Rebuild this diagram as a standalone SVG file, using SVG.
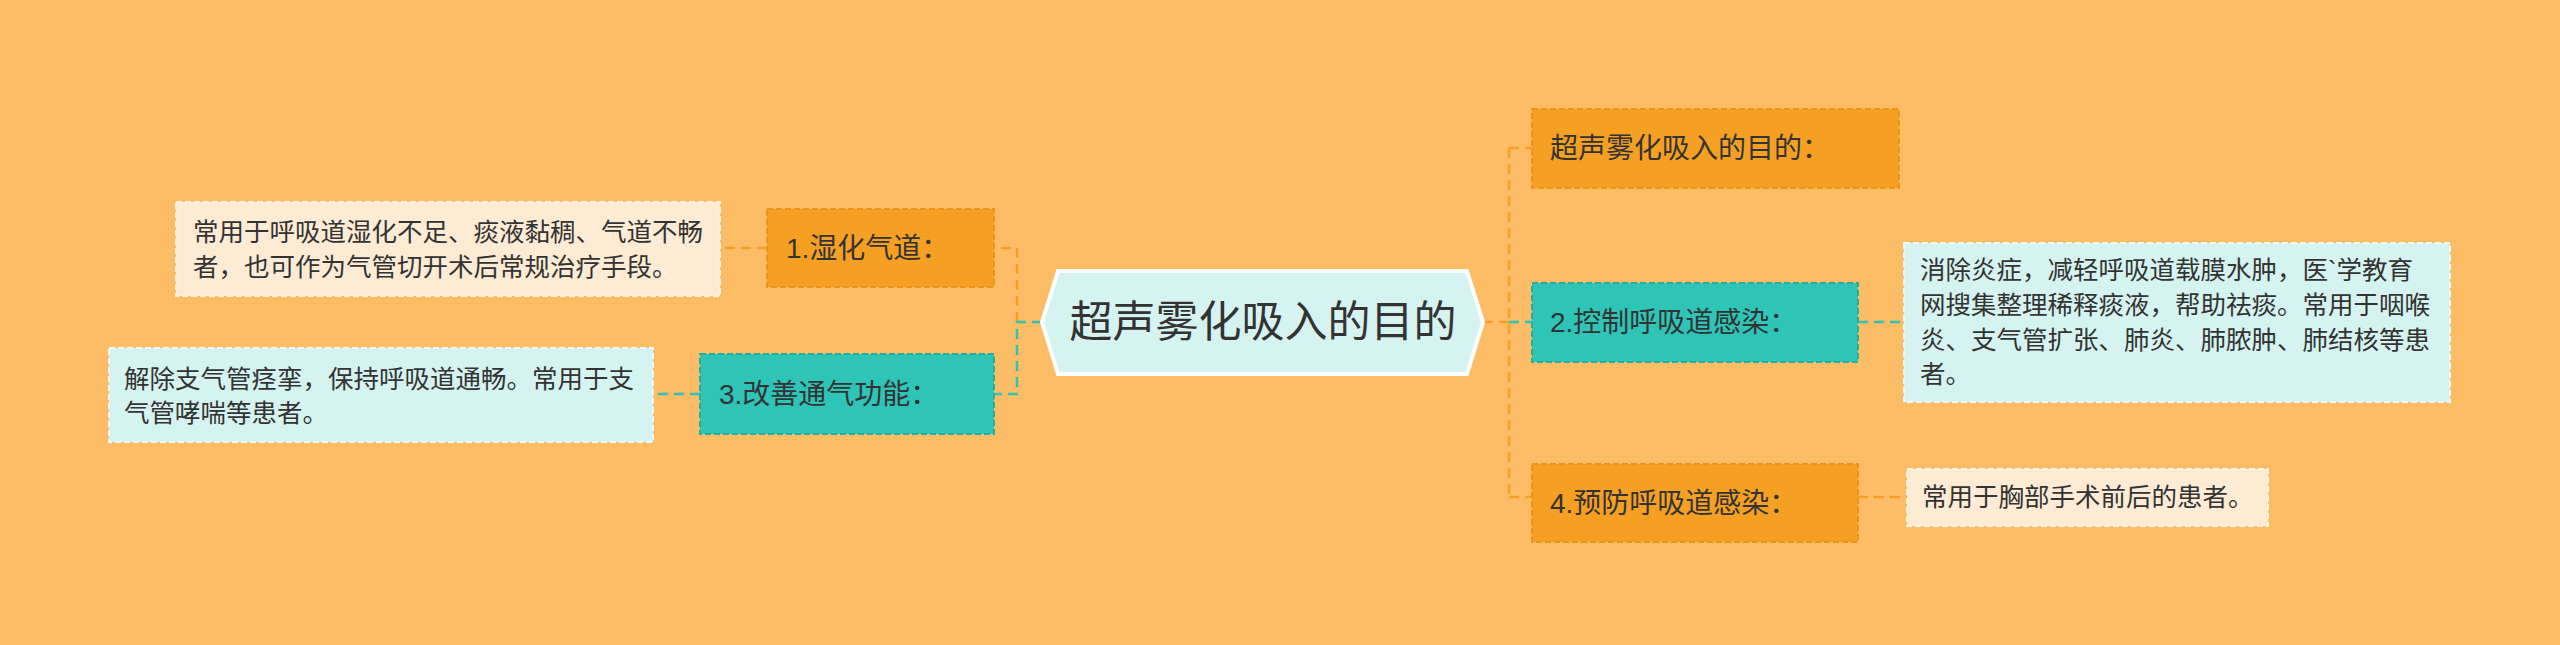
<svg xmlns="http://www.w3.org/2000/svg" width="2560" height="645" viewBox="0 0 2560 645">
<style>
text{font-family:"Liberation Sans","Noto Sans CJK SC",sans-serif;fill:#333}
.or{fill:#f6a023;stroke:#e8951a;stroke-width:2;stroke-dasharray:6 3}
.te{fill:#2ec4b6;stroke:#27ad9f;stroke-width:2;stroke-dasharray:6 3}
.cr{fill:#fdebd3;stroke:#fff3e3;stroke-width:2;stroke-dasharray:6 3}
.cy{fill:#d5f3f0;stroke:#e8fbf8;stroke-width:2;stroke-dasharray:6 3}
.b{font-size:28px}
.l{font-size:25.5px}
.co{fill:none;stroke:#f6a023;stroke-width:2.5;stroke-dasharray:10 6}
.ct{fill:none;stroke:#2ec4b6;stroke-width:2.5;stroke-dasharray:10 6}
</style>
<rect width="2560" height="645" fill="#fdbd67"/>
<g id="connectors">
<path class="co" d="M1483 322H1509M1509 148V497M1509 148H1532M1509 497H1532"/>
<path class="ct" d="M1509 322H1532"/>
<path class="ct" d="M1858 322H1904"/>
<path class="co" d="M1858 497H1907"/>
<path class="co" d="M1017 322V248H994"/>
<path class="ct" d="M1042 322H1017V394H994"/>
<path class="co" d="M767 248H720"/>
<path class="ct" d="M700 394H653"/>
</g>
<g id="center">
<polygon points="1058,271 1467,271 1483,322 1467,374 1058,374 1042,322" fill="#d5f3f0" stroke="#fff" stroke-width="4"/>
<text x="1263" y="337" font-size="43" text-anchor="middle">超声雾化吸入的目的</text>
</g>
<g id="n1"><rect class="or" x="767" y="209" width="227" height="78"/><text class="b" x="786" y="258">1.湿化气道：</text></g>
<g id="leaf1"><rect class="cr" x="176" y="202" width="544" height="94"/>
<text class="l" x="193" y="241">常用于呼吸道湿化不足、痰液黏稠、气道不畅</text><text class="l" x="193" y="276">者，也可作为气管切开术后常规治疗手段。</text></g>
<g id="n3"><rect class="te" x="700" y="354" width="294" height="80"/><text class="b" x="719" y="404">3.改善通气功能：</text></g>
<g id="leaf3"><rect class="cy" x="109" y="348" width="544" height="94"/>
<text class="l" x="124" y="388">解除支气管痉挛，保持呼吸道通畅。常用于支</text><text class="l" x="124" y="422">气管哮喘等患者。</text></g>
<g id="n0"><rect class="or" x="1532" y="109" width="367" height="79"/><text class="b" x="1550" y="158">超声雾化吸入的目的：</text></g>
<g id="n2"><rect class="te" x="1532" y="283" width="326" height="79"/><text class="b" x="1550" y="332">2.控制呼吸道感染：</text></g>
<g id="leaf2"><rect class="cy" x="1904" y="243" width="546" height="159"/>
<text class="l" x="1920" y="279">消除炎症，减轻呼吸道载膜水肿，医`学教育</text>
<text class="l" x="1920" y="314">网搜集整理稀释痰液，帮助祛痰。常用于咽喉</text>
<text class="l" x="1920" y="349">炎、支气管扩张、肺炎、肺脓肿、肺结核等患</text>
<text class="l" x="1920" y="383">者。</text></g>
<g id="n4"><rect class="or" x="1532" y="464" width="326" height="78"/><text class="b" x="1550" y="513">4.预防呼吸道感染：</text></g>
<g id="leaf4"><rect class="cr" x="1907" y="469" width="361" height="57"/><text class="l" x="1922" y="506">常用于胸部手术前后的患者。</text></g>
</svg>
